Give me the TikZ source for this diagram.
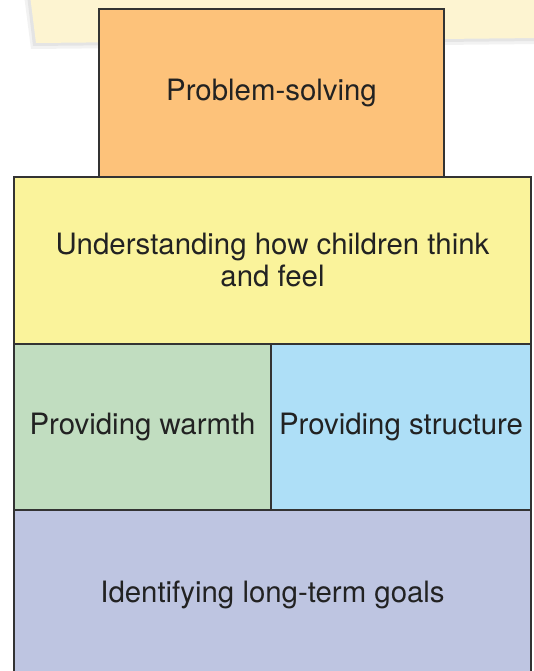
\documentclass[tikz,border=0pt]{standalone}
\usepackage{fontspec}
\setmainfont{TeX Gyre Heros}
\usetikzlibrary{positioning}

\definecolor{paper}{HTML}{FDF4D1}
\definecolor{solveclr}{HTML}{FDC27A}
\definecolor{thinkclr}{HTML}{FAF39B}
\definecolor{warmclr}{HTML}{C1DDC0}
\definecolor{structclr}{HTML}{AEDFF7}
\definecolor{goalclr}{HTML}{BEC5E1}
\definecolor{inkclr}{HTML}{222222}

\begin{document}
\begin{tikzpicture}[x=1pt, y=-1pt, node distance = 0pt,
every node/.style={font=\fontsize{29.4}{32}\selectfont, text=inkclr},
block/.style={draw=black!80, line width=1.2pt, rectangle, outer sep=0pt, inner sep=0pt, align=center}]

\useasboundingbox (0,0) rectangle (533,671);

% paper sheet behind the pyramid
\fill[black, opacity=0.05] (24,-5) -- (31,49) -- (540,44) -- (540,-5) -- cycle;
\fill[black, opacity=0.06] (27,-5) -- (33,46) -- (540,41) -- (540,-5) -- cycle;
\fill[paper] (30,-5) -- (36,43) -- (540,38) -- (540,-5) -- cycle;

\node (solve) [block, fill=solveclr, minimum width=345pt, minimum height=168pt, anchor=north west] at (99,9) {Problem-solving};
\node (think) [block, fill=thinkclr, minimum width=517pt, minimum height=167pt, anchor=north west] at (14,177)
	{Understanding how children think\\and feel};
\node (warmth) [block, fill=warmclr, minimum width=257pt, minimum height=166pt, below right = of think.south west] {Providing warmth};
\node (structure) [block, fill=structclr, minimum width=260pt, minimum height=166pt, right = of warmth] {Providing structure};
\node (goals) [block, fill=goalclr, minimum width=517pt, minimum height=170pt, below right = of warmth.south west] {};
\node at ([yshift=-85pt]goals.north) {Identifying long-term goals};

\end{tikzpicture}
\end{document}
